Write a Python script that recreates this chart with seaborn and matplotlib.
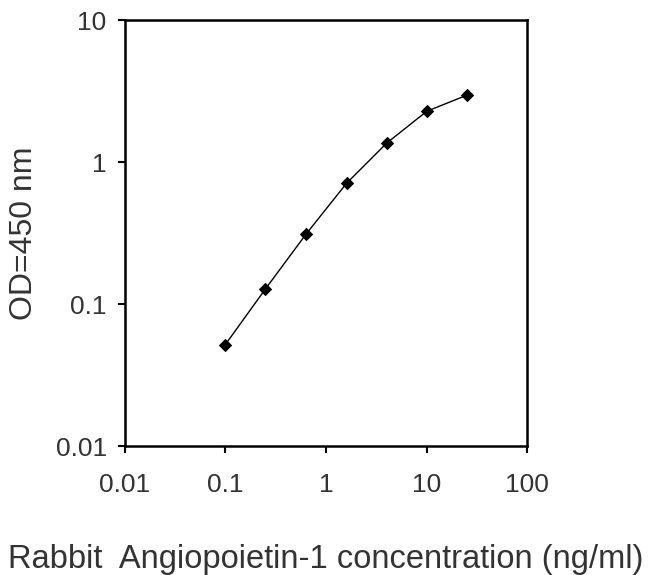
import matplotlib
matplotlib.use("Agg")
import matplotlib.pyplot as plt
import seaborn as sns
import pandas as pd
from matplotlib.ticker import FixedLocator, FixedFormatter, NullLocator

# standard curve values
concentration = [0.1, 0.25, 0.63, 1.6, 4.0, 10.0, 25.0]
od_450 = [0.052, 0.128, 0.31, 0.71, 1.36, 2.28, 2.96]

x_ticks = [0.01, 0.1, 1, 10, 100]
x_labels = ["0.01", "0.1", "1", "10", "100"]
y_ticks = [0.01, 0.1, 1, 10]
y_labels = ["0.01", "0.1", "1", "10"]

df = pd.DataFrame({"conc": concentration, "od": od_450})

sns.set_style("white")
plt.rcParams["font.family"] = ["Liberation Sans", "DejaVu Sans"]

fig = plt.figure(figsize=(6.6, 5.75), dpi=100)
ax = fig.add_axes([0.189, 0.224, 0.61, 0.741])

sns.lineplot(data=df, x="conc", y="od", ax=ax, color="black", linewidth=1.0,
             marker="D", markersize=6.5, markeredgecolor="black")

ax.set_xscale("log")
ax.set_yscale("log")
ax.set_xlim(0.01, 100)
ax.set_ylim(0.01, 10)

ax.xaxis.set_major_locator(FixedLocator(x_ticks))
ax.xaxis.set_major_formatter(FixedFormatter(x_labels))
ax.yaxis.set_major_locator(FixedLocator(y_ticks))
ax.yaxis.set_major_formatter(FixedFormatter(y_labels))
ax.xaxis.set_minor_locator(NullLocator())
ax.yaxis.set_minor_locator(NullLocator())

ax.tick_params(axis="both", direction="out", length=5, width=1.5, color="black",
               labelsize=19, labelcolor="#333333", bottom=True, left=True)
ax.tick_params(axis="x", pad=14)
ax.tick_params(axis="y", pad=8)

for side in ["left", "bottom", "top", "right"]:
    ax.spines[side].set_color("black")
    ax.spines[side].set_linewidth(1.8)

ax.set_xlabel("Rabbit  Angiopoietin-1 concentration (ng/ml)", fontsize=23.5,
              color="#333333", labelpad=34)
ax.set_ylabel("OD=450 nm", fontsize=23, color="#333333", labelpad=12)

fig.savefig("out.png", dpi=100, facecolor="white")
